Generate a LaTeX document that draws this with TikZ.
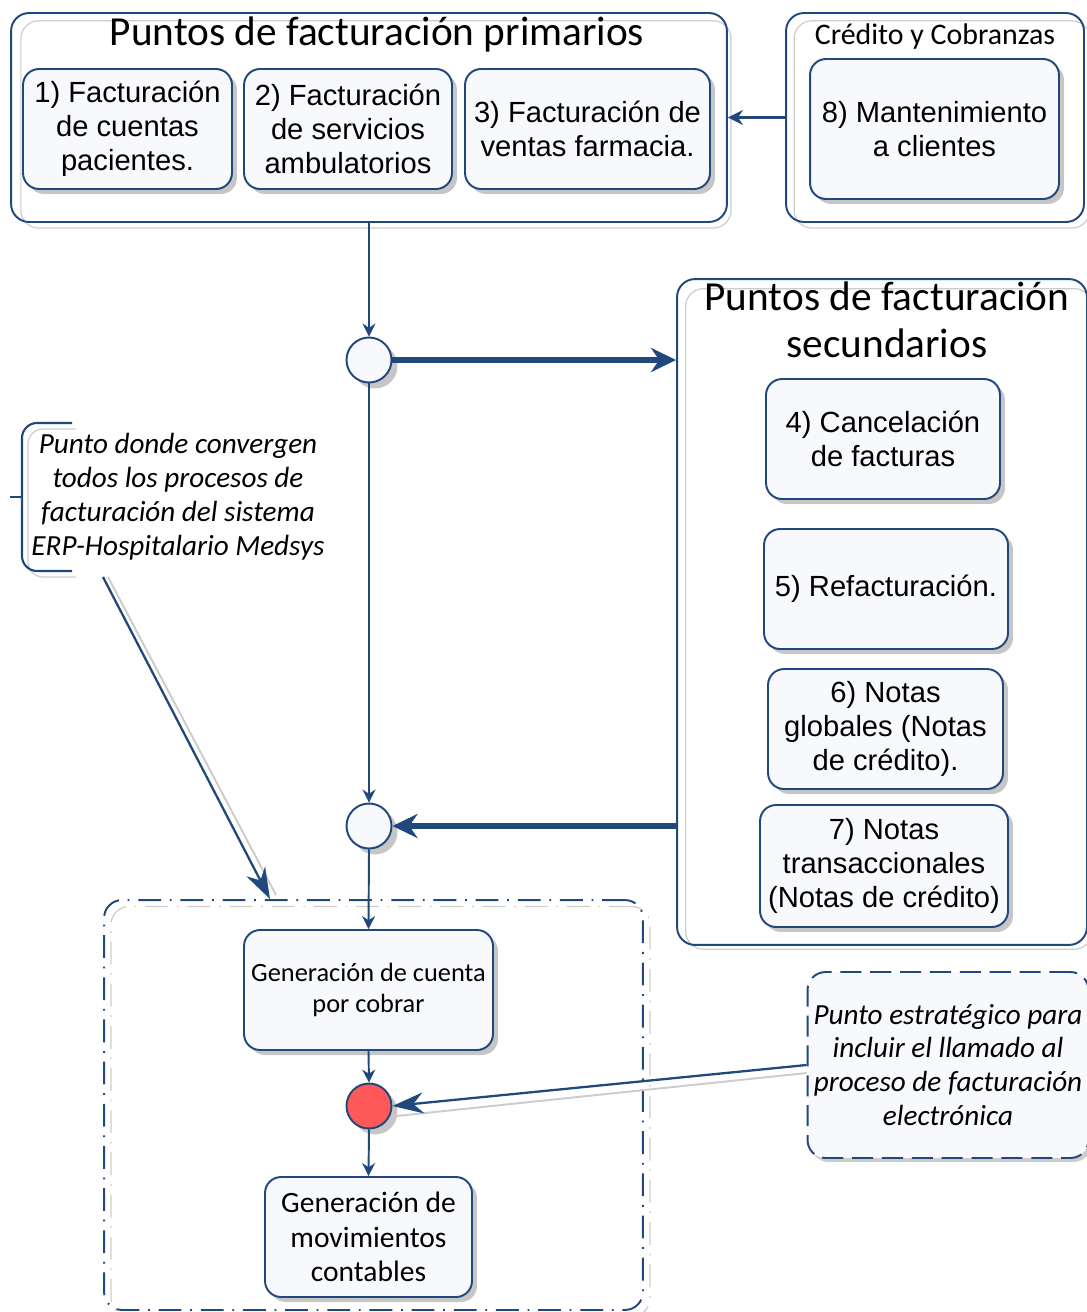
\documentclass[tikz,border=0pt]{standalone}
\usepackage{fontspec}
\newfontfamily\arialf{Liberation Sans}
\newfontfamily\calf{Carlito}
\usetikzlibrary{arrows.meta,shapes,positioning,shadows,calc}
\definecolor{bordeazul}{RGB}{33,72,125}
\definecolor{fondocaja}{RGB}{248,249,253}
\definecolor{rojopunto}{RGB}{255,88,88}

\begin{document}
\begin{tikzpicture}[x=0.02cm, y=-0.02cm,
    proceso/.style={draw=bordeazul, line width=1.1pt, rounded corners=0.32cm, fill=fondocaja,
      align=center, inner sep=0pt, font=\arialf\fontsize{16.6}{19.3}\selectfont,
      general shadow={fill=gray!45, shadow xshift=0.1cm, shadow yshift=-0.1cm}},
    grupo/.style={draw=bordeazul, line width=1.1pt, rounded corners=0.36cm, inner sep=0pt,
      general shadow={draw=gray!40, fill=none, line width=0.7pt, shadow scale=0.992,
        shadow xshift=0.14cm, shadow yshift=-0.14cm}},
    titulo/.style={align=center, inner sep=0pt, font=\calf\fontsize{23.5}{26.6}\selectfont},
    punto/.style={circle, draw=bordeazul, line width=1.1pt, fill=fondocaja, minimum size=0.9cm, inner sep=0pt,
      general shadow={fill=gray!45, shadow xshift=0.12cm, shadow yshift=-0.12cm}},
    nota/.style={align=center, inner sep=0pt, font=\calf\itshape\fontsize{16.6}{19.3}\selectfont},
    flecha/.style={draw=bordeazul, line width=1.1pt, -{Stealth[length=0.26cm, width=0.26cm]}},
    flechagruesa/.style={draw=bordeazul, line width=3.6pt, -{Stealth[length=0.5cm, width=0.48cm]}},
    flechanota/.style={draw=bordeazul, line width=1.3pt, -{Stealth[length=0.62cm, width=0.42cm]}}]
  \useasboundingbox (0,0) rectangle (1087,1312);
  \clip (0,0) rectangle (1087,1312);

  % Puntos de facturacion primarios
  \node[grupo, minimum width=14.32cm, minimum height=4.18cm] (prim) at (369,117.5) {};
  \node[titulo] (tprim) at (377,34) {Puntos de facturación primarios};
  \node[proceso, minimum width=4.18cm, minimum height=2.4cm] (f1) at (127.5,129) {1) Facturación\\de cuentas\\pacientes.};
  \node[proceso, minimum width=4.16cm, minimum height=2.4cm] (f2) at (348,129) {2) Facturación\\de servicios\\ambulatorios};
  \node[proceso, minimum width=4.9cm, minimum height=2.4cm] (f3) at (587.5,129) {3) Facturación de\\ventas farmacia.};

  % Credito y Cobranzas
  \node[grupo, minimum width=5.96cm, minimum height=4.18cm] (cred) at (935,117.5) {};
  \node[titulo, font=\calf\fontsize{17}{20}\selectfont] (tcred) at (935,37) {Crédito y Cobranzas};
  \node[proceso, minimum width=4.98cm, minimum height=2.8cm] (f8) at (934.5,129) {8) Mantenimiento\\a clientes};

  % Puntos de facturacion secundarios
  \node[grupo, minimum width=8.2cm, minimum height=13.32cm] (sec) at (882,612) {};
  \node[titulo] (tsec) at (887,320) {Puntos de facturación\\secundarios};
  \node[proceso, minimum width=4.68cm, minimum height=2.4cm] (f4) at (883,439) {4) Cancelación\\de facturas};
  \node[proceso, minimum width=4.88cm, minimum height=2.4cm] (f5) at (886,589) {5) Refacturación.};
  \node[proceso, minimum width=4.7cm, minimum height=2.4cm] (f6) at (885.5,729) {6) Notas\\globales (Notas\\de crédito).};
  \node[proceso, minimum width=4.96cm, minimum height=2.44cm] (f7) at (884,866) {7) Notas\\transaccionales\\(Notas de crédito)};

  % Puntos de convergencia
  \node[punto] (c1) at (369,360) {};
  \node[punto] (c2) at (369,826) {};

  % Generacion de cuenta y movimientos
  \node[draw=bordeazul, line width=1.1pt, rounded corners=0.36cm, dash pattern=on 13pt off 5pt on 1pt off 5pt,
    minimum width=10.78cm, minimum height=8.2cm,
    general shadow={draw=gray!40, fill=none, line width=0.7pt, shadow xshift=0.14cm, shadow yshift=-0.13cm}]
    (cxc) at (373.5,1105) {};
  \node[proceso, font=\calf\fontsize{15}{17.6}\selectfont, minimum width=4.98cm, minimum height=2.4cm] (gcc) at (368.5,990) {Generación de cuenta\\por cobrar};
  \node[punto, fill=rojopunto] (rojo) at (369,1106) {};
  \node[proceso, font=\calf\fontsize{16.8}{19.6}\selectfont, minimum width=4.14cm, minimum height=2.4cm] (gmc) at (368.5,1237) {Generación de\\movimientos\\contables};

  % Notas
  \node[nota] (nota1) at (178,497) {Punto donde convergen\\todos los procesos de\\facturación del sistema\\ERP-Hospitalario Medsys};
  \draw[gray!40, line width=0.7pt, rounded corners=0.3cm] (76,429) -- (28,429) -- (28,577) -- (76,577);
  \draw[bordeazul, line width=1.2pt, rounded corners=0.3cm] (72,423) -- (22,423) -- (22,571) -- (72,571);
  \draw[bordeazul, line width=1.2pt] (10,497) -- (22,497);
  \node[nota, draw=bordeazul, line width=1.1pt, dash pattern=on 12pt off 5pt, rounded corners=0.36cm, fill=fondocaja,
    minimum width=5.62cm, minimum height=3.72cm,
    general shadow={fill=gray!40, shadow xshift=0.06cm, shadow yshift=-0.08cm}]
    (nota2) at (948,1065) {Punto estratégico para\\incluir el llamado al\\proceso de facturación\\electrónica};
  \coordinate (n1pie) at (103,577);
  \coordinate (llegada) at (270,899);

  % Conectores
  \draw[flecha, line width=1.4pt, -{Stealth[length=0.3cm, width=0.3cm]}] (cred.west) -- (prim.east);
  \draw[flecha] (prim.south -| c1) -- (c1.north);
  \draw[flechagruesa] (c1.east) -- (c1 -| sec.west);
  \draw[flecha] (c1.south) -- (c2.north);
  \draw[flechagruesa] (c2 -| sec.west) -- (c2.east);
  \draw[flecha] (c2.south) -- (gcc.north);
  \draw[flecha] (gcc.south) -- (rojo.north);
  \draw[flecha] (rojo.south) -- (gmc.north);
  \draw[gray!40, line width=1.1pt] ($(n1pie)+(5,0)$) -- ($(llegada)+(6,-4)$);
  \draw[flechanota] (n1pie) -- (llegada);
  \draw[gray!40, line width=1.1pt] ($(nota2.west)+(0,8)$) -- ($(rojo.east)+(4,10)$);
  \draw[flechanota] (nota2.west) -- (rojo.east);
\end{tikzpicture}
\end{document}
